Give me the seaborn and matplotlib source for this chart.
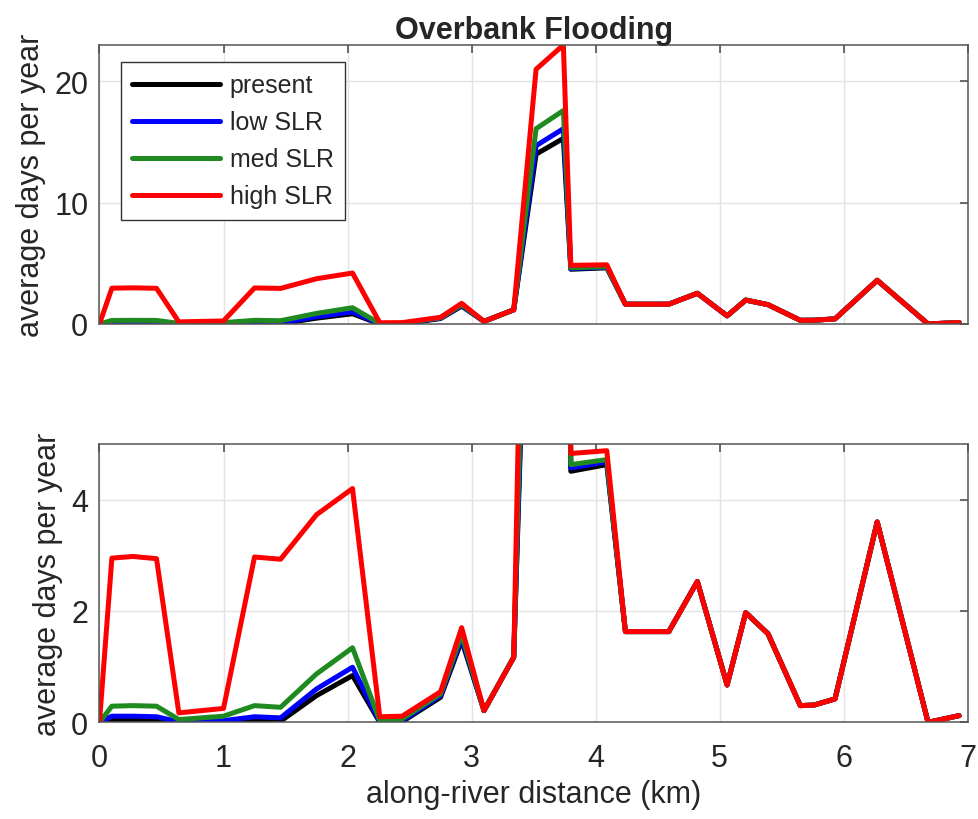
import numpy as np
import pandas as pd
import matplotlib
matplotlib.use("Agg")
import matplotlib.pyplot as plt
import seaborn as sns
from matplotlib.lines import Line2D

# ---- data ----
distance_km = [0.00, 0.10, 0.27, 0.46, 0.64, 1.00, 1.25, 1.46, 1.75, 2.04,
               2.26, 2.44, 2.75, 2.92, 3.10, 3.34, 3.52, 3.74, 3.80, 4.09,
               4.24, 4.59, 4.82, 5.06, 5.21, 5.39, 5.65, 5.76, 5.93, 6.27,
               6.68, 6.93]

present = [0.00, 0.04, 0.05, 0.04, 0.00, 0.01, 0.03, 0.02, 0.48, 0.84,
           0.00, 0.01, 0.45, 1.47, 0.21, 1.17, 14.0, 15.3, 4.51, 4.63,
           1.63, 1.63, 2.53, 0.67, 1.97, 1.59, 0.30, 0.31, 0.42, 3.60,
           0.00, 0.12]

low_slr = [0.00, 0.11, 0.11, 0.10, 0.01, 0.03, 0.10, 0.08, 0.60, 0.99,
           0.01, 0.03, 0.48, 1.52, 0.21, 1.17, 14.7, 16.1, 4.57, 4.68,
           1.63, 1.63, 2.53, 0.67, 1.97, 1.59, 0.30, 0.31, 0.42, 3.60,
           0.00, 0.12]

med_slr = [0.00, 0.29, 0.30, 0.29, 0.05, 0.11, 0.30, 0.27, 0.87, 1.34,
           0.03, 0.06, 0.51, 1.58, 0.21, 1.17, 16.1, 17.6, 4.63, 4.72,
           1.63, 1.63, 2.53, 0.67, 1.97, 1.59, 0.30, 0.31, 0.42, 3.60,
           0.00, 0.12]

high_slr = [0.00, 2.95, 2.98, 2.94, 0.17, 0.25, 2.97, 2.93, 3.73, 4.20,
            0.10, 0.11, 0.55, 1.70, 0.21, 1.17, 21.0, 23.0, 4.83, 4.88,
            1.63, 1.63, 2.53, 0.67, 1.97, 1.59, 0.30, 0.31, 0.42, 3.60,
            0.00, 0.12]

scenario_names = ["present", "low SLR", "med SLR", "high SLR"]
scenario_colors = ["#000000", "#0000ff", "#1f8a1f", "#ff0000"]

x_ticks = [0, 1, 2, 3, 4, 5, 6, 7]
top_yticks = [0, 10, 20]
bottom_yticks = [0, 2, 4]

title_text = "Overbank Flooding"
ylabel_text = "average days per year"
xlabel_text = "along-river distance (km)"

# ---- long-form table ----
series = [present, low_slr, med_slr, high_slr]
frames = []
for name, vals in zip(scenario_names, series):
    frames.append(pd.DataFrame({"distance": distance_km, "days": vals,
                                "scenario": name}))
df = pd.concat(frames, ignore_index=True)
palette = dict(zip(scenario_names, scenario_colors))

# ---- style ----
sns.set_theme(style="white")
plt.rcParams["font.family"] = ["Liberation Sans", "DejaVu Sans"]
plt.rcParams["axes.edgecolor"] = "#555555"
plt.rcParams["axes.linewidth"] = 1.1

fig = plt.figure(figsize=(9.79, 8.2), dpi=100)
ax1 = fig.add_axes([0.1016, 0.6037, 0.8869, 0.3402])
ax2 = fig.add_axes([0.1016, 0.1179, 0.8869, 0.3394])

TICK_FS = 22
LW = 3.6

for ax, ylim, yt in [(ax1, (0, 23), top_yticks), (ax2, (0, 5), bottom_yticks)]:
    sns.lineplot(data=df, x="distance", y="days", hue="scenario",
                 hue_order=scenario_names, palette=palette, sort=False,
                 estimator=None, linewidth=LW, legend=False, ax=ax)
    ax.set_xlim(0, 7)
    ax.set_ylim(*ylim)
    ax.set_xticks(x_ticks)
    ax.set_yticks(yt)
    ax.grid(True, color="#e3e3e3", linewidth=1.0)
    ax.set_axisbelow(True)
    ax.tick_params(axis="both", which="both", direction="in", length=6,
                   width=1.1, color="#444444", top=True, right=True,
                   labelsize=TICK_FS, labelcolor="#262626")
    ax.tick_params(axis="y", pad=8)
    ax.tick_params(axis="x", pad=15)
    ax.set_ylabel(ylabel_text, fontsize=TICK_FS, color="#262626", labelpad=6)
    for s in ax.spines.values():
        s.set_visible(True)

ax1.set_xlabel("")
ax1.tick_params(axis="x", labelbottom=False)
ax2.set_xlabel(xlabel_text, fontsize=TICK_FS, color="#262626", labelpad=4)
ax1.set_title(title_text, fontsize=TICK_FS, fontweight="bold", pad=1)

handles = [Line2D([0], [0], color=c, lw=LW) for c in scenario_colors]
leg = ax1.legend(handles, scenario_names, loc="upper left",
                 bbox_to_anchor=(0.0248, 0.939), borderaxespad=0,
                 fontsize=18, frameon=True, fancybox=False,
                 edgecolor="#333333", framealpha=1, handlelength=3.5,
                 handletextpad=0.4, labelspacing=0.52, borderpad=0.45)
leg.get_frame().set_linewidth(1.0)

fig.savefig("out.png", dpi=100)
